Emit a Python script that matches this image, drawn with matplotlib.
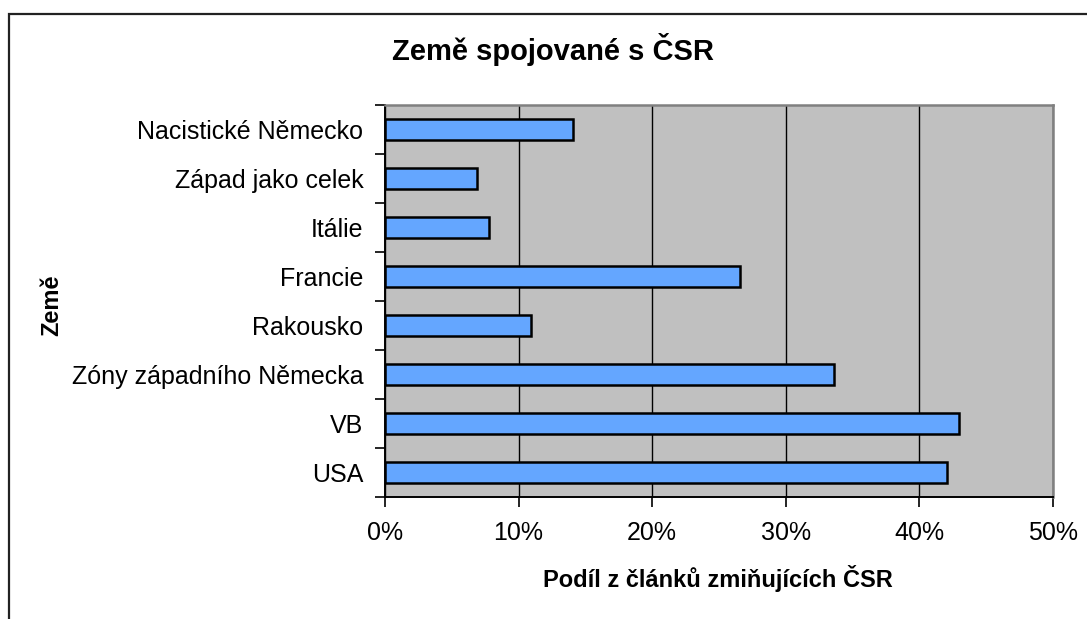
import matplotlib
matplotlib.use("Agg")
import matplotlib.pyplot as plt
from matplotlib.patches import Rectangle
from matplotlib.ticker import FuncFormatter, FixedLocator

plt.rcParams["font.family"] = ["Liberation Sans", "DejaVu Sans"]

countries = ["Nacistické Německo", "Západ jako celek", "Itálie", "Francie",
             "Rakousko", "Zóny západního Německa", "VB", "USA"]
shares = [14.1, 6.9, 7.8, 26.6, 10.9, 33.6, 43.0, 42.1]
x_ticks = [0, 10, 20, 30, 40, 50]

W, H = 1087, 619
fig = plt.figure(figsize=(W / 100, H / 100), dpi=100)

# outer chart border (runs off the right and bottom edge)
fig.patches.append(Rectangle((9 / W, -0.2), 2.0, 1.2 - 14 / H,
                             transform=fig.transFigure, fill=False,
                             edgecolor="#222222", linewidth=1.6))

ax = fig.add_axes([385 / W, (H - 497) / H, 668 / W, 392 / H])
ax.set_facecolor("#C0C0C0")

pos = list(range(len(countries)))[::-1]
ax.barh(pos, shares, height=0.43, color="#64A6FF", edgecolor="black",
        linewidth=1.8, zorder=3)

ax.set_xlim(0, 50)
ax.set_ylim(-0.5, len(countries) - 0.5)
ax.xaxis.set_major_locator(FixedLocator(x_ticks))
ax.xaxis.set_major_formatter(FuncFormatter(lambda v, _: f"{v:.0f}%"))
ax.grid(axis="x", color="black", linewidth=1.0, zorder=1)

# category labels centred, ticks at category boundaries
ax.set_yticks(pos)
ax.set_yticklabels(countries)
ax.set_yticks([p - 0.5 for p in range(len(countries) + 1)], minor=True)
ax.tick_params(axis="y", which="major", length=0, pad=15.5, labelsize=18)
ax.tick_params(axis="y", which="minor", length=7, width=1.2, direction="out")
ax.tick_params(axis="x", length=7, width=1.2, direction="out", pad=10.5,
               labelsize=18)

for side in ("top", "right"):
    ax.spines[side].set_color("#808080")
    ax.spines[side].set_linewidth(1.8)
for side in ("left", "bottom"):
    ax.spines[side].set_color("black")
    ax.spines[side].set_linewidth(1.4)

fig.text(553 / W, 1 - 50 / H, "Země spojované s ČSR", ha="center", va="center",
         fontsize=21, fontweight="bold")
fig.text(718 / W, 1 - 578 / H, "Podíl z článků zmiňujících ČSR", ha="center",
         va="center", fontsize=17, fontweight="bold")
fig.text(52 / W, 1 - 305 / H, "Země", ha="center", va="center", rotation=90,
         fontsize=17, fontweight="bold")

fig.savefig("out.png", dpi=100, facecolor="white")
